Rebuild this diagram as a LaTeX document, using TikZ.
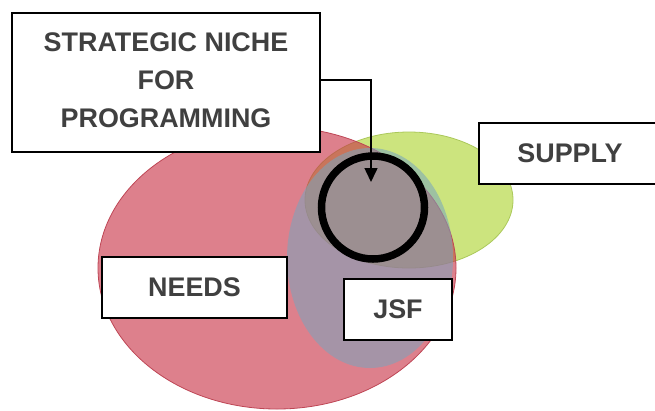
\documentclass[tikz,border=0pt]{standalone}
\usepackage{fontspec}
\setmainfont{Liberation Sans}
\usetikzlibrary{arrows.meta}

\definecolor{needsfill}{RGB}{200,50,70}
\definecolor{needsline}{RGB}{190,70,85}
\definecolor{supplyfill}{RGB}{170,210,40}
\definecolor{supplyline}{RGB}{170,200,90}
\definecolor{jsffill}{RGB}{120,165,190}
\definecolor{labeltext}{RGB}{64,64,64}

\tikzset{
  labelbox/.style={draw=black, line width=1.8bp, fill=white, inner sep=0pt,
    text=labeltext, align=center,
    font=\fontsize{27}{38}\selectfont\bfseries},
  pointer/.style={draw=black, line width=1.5bp,
    -{Triangle[length=14bp,width=13bp]}},
}

\begin{document}
\begin{tikzpicture}[x=1bp, y=-1bp]
  \useasboundingbox (0,0) rectangle (655,410);

  % supply set (drawn first so the needs set tints it)
  \fill[supplyfill, fill opacity=0.6] (409,200) ellipse [x radius=104bp, y radius=68bp];
  \draw[supplyline, line width=0.8bp] (409,200) ellipse [x radius=104bp, y radius=68bp];

  % needs set
  \fill[needsfill, fill opacity=0.62] (277,268) ellipse [x radius=179bp, y radius=141bp];
  \draw[needsline, line width=0.8bp] (277,268) ellipse [x radius=179bp, y radius=141bp];

  % JSF set
  \fill[jsffill, fill opacity=0.55] (370,258) ellipse [x radius=83bp, y radius=110bp];

  % the strategic niche ring
  \node[draw=black, line width=7.5bp, circle, minimum size=103bp, inner sep=0pt] (niche) at (373,207.5) {};
  \coordinate (nicheTip) at (371,182);

  % labels
  \node[labelbox, minimum width=308bp, minimum height=139bp] (sn) at (166,82.5)
    {STRATEGIC NICHE\\FOR\\PROGRAMMING\\[-33bp]\mbox{}};
  \node[labelbox, minimum width=182bp, minimum height=61bp] (supply) at (570,153.5) {SUPPLY};
  \node[labelbox, minimum width=185bp, minimum height=61bp] (needs) at (194.5,287.5) {NEEDS};
  \node[labelbox, minimum width=108bp, minimum height=61bp] (jsf) at (398,309.5) {JSF};

  % pointer into the niche
  \draw[pointer] ([yshift=2.5bp]sn.east) -| (nicheTip);
\end{tikzpicture}
\end{document}
